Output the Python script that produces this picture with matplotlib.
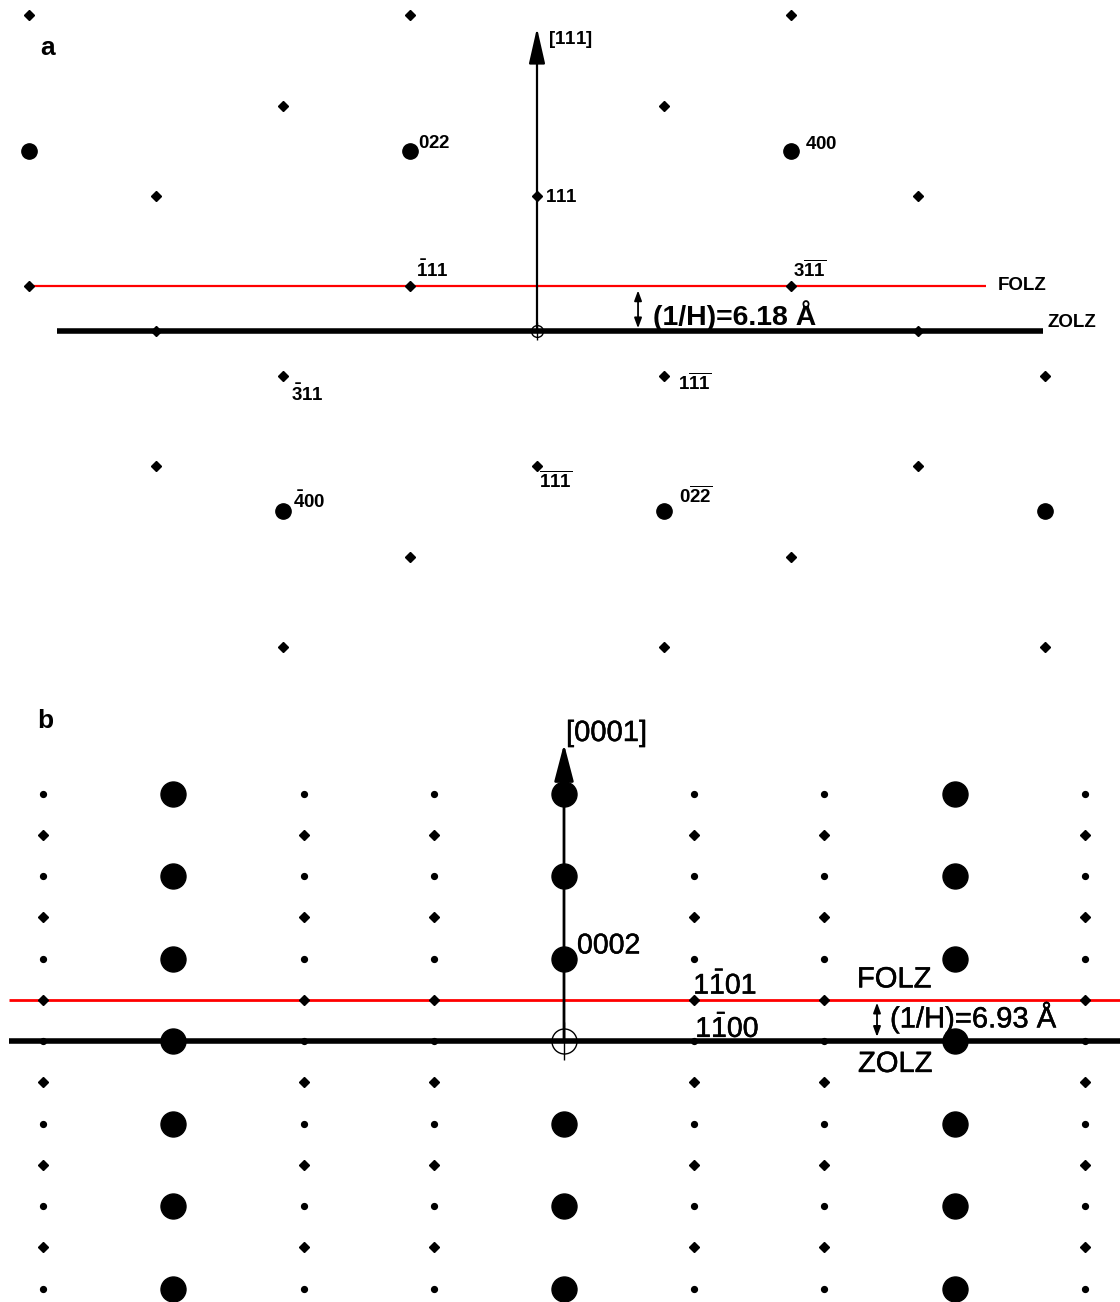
import matplotlib
matplotlib.use("Agg")
import matplotlib.pyplot as plt
import matplotlib.patheffects as pe
from matplotlib.patches import FancyArrowPatch

plt.rcParams['font.family'] = ['Liberation Sans', 'DejaVu Sans']
plt.rcParams['mathtext.fontset'] = 'custom'
plt.rcParams['mathtext.rm'] = 'Liberation Sans'
plt.rcParams['mathtext.bf'] = 'Liberation Sans:bold'
plt.rcParams['mathtext.it'] = 'Liberation Sans:italic'
plt.rcParams['mathtext.sf'] = 'Liberation Sans'

# ---------------- Panel a : cubic crystal, [111] vertical ----------------
# spot positions in (lattice column, layer) units; origin = 000
a_spot_x = [-4, -1, 2, -2, 1, -3, 0, 3, -4, -1, 2, -3, 3,
            -2, 1, 4, -3, 0, 3, -1, 2, -2, 1, 4]
a_spot_y = [7, 7, 7, 5, 5, 3, 3, 3, 1, 1, 1, 0, 0,
            -1, -1, -1, -3, -3, -3, -5, -5, -7, -7, -7]
a_strong_x = [-4, -1, 2, -2, 1, 4]
a_strong_y = [4, 4, 4, -4, -4, -4]

a_index_text = [r'$\mathbf{022}$', r'$\mathbf{400}$', r'$\mathbf{111}$',
                r'$\mathbf{\bar{1}11}$', r'$\mathbf{3\overline{11}}$',
                r'$\mathbf{\bar{3}11}$', r'$\mathbf{1\overline{11}}$',
                r'$\mathbf{\overline{111}}$', r'$\mathbf{\bar{4}00}$',
                r'$\mathbf{0\overline{22}}$']
a_index_x = [-1, 2, 0, -1, 2, -2, 1, 0, -2, 1]
a_index_y = [4, 4, 3, 1, 1, -1, -1, -3, -4, -4]
a_folz_layer = 1
a_zolz_layer = 0
a_axis_tip = 6.72
a_spacing = '(1/H)=6.18 Å'

# ---------------- Panel b : hexagonal crystal, [0001] vertical ----------------
b_strong_cols = [-3, 0, 3]
b_strong_rows = [-6, -4, -2, 0, 2, 4, 6]
b_weak_cols = [-4, -2, -1, 1, 2, 4]
b_odd_rows = [-5, -3, -1, 1, 3, 5]
b_even_rows = [-6, -4, -2, 0, 2, 4, 6]
b_index_text = [r'$0002$', r'$1\bar{1}01$', r'$1\bar{1}00$']
b_index_x = [0, 1, 1]
b_index_y = [2, 1, 0]
b_folz_layer = 1
b_zolz_layer = 0
b_axis_tip = 7.2
b_spacing = '(1/H)=6.93 Å'

W, H = 1120, 1302
fig = plt.figure(figsize=(W / 100, H / 100), dpi=100)

# axes placement (pixel rows of the figure)
a_top, a_bot = 0, 690
b_top, b_bot = 690, 1302
axa = fig.add_axes([0, 1 - a_bot / H, 1, (a_bot - a_top) / H])
axb = fig.add_axes([0, 0, 1, (b_bot - b_top) / H])

# lattice-unit to pixel scales
a_x0, a_dx, a_y0, a_dy = 537.0, 127.1, 331.0, 45.1
b_x0, b_dx, b_y0, b_dy = 564.0, 130.2, 1041.0 - b_top, 41.25
axa.set_xlim(-a_x0 / a_dx, (W - a_x0) / a_dx)
axa.set_ylim((a_y0 - (a_bot - a_top)) / a_dy, a_y0 / a_dy)
axb.set_xlim(-b_x0 / b_dx, (W - b_x0) / b_dx)
axb.set_ylim((b_y0 - (b_bot - b_top)) / b_dy, b_y0 / b_dy)
for ax in (axa, axb):
    ax.set_axis_off()

# ---- panel a drawing ----
axa.plot([-4.0, 3.53], [a_folz_layer] * 2, color='#ff0000', lw=1.6, zorder=1,
         solid_capstyle='butt')
axa.plot([-3.78, 3.98], [a_zolz_layer] * 2, color='black', lw=4.0, zorder=1,
         solid_capstyle='butt')
axa.plot(a_spot_x, a_spot_y, 'D', color='black', ms=5.4, ls='none', zorder=3)
axa.plot(a_strong_x, a_strong_y, 'o', color='black', ms=11, ls='none', zorder=3)
axa.plot([0], [0], 'o', mfc='none', mec='black', ms=8.5, mew=1.0, zorder=4)
axa.plot([0], [0], '+', color='black', ms=13, mew=1.0, zorder=4)
axa.add_patch(FancyArrowPatch((0, 0), (0, a_axis_tip),
                              arrowstyle='-|>,head_length=22,head_width=5',
                              mutation_scale=1, lw=1.6, color='black',
                              shrinkA=0, shrinkB=0, zorder=5))
axa.annotate(r'$\mathbf{[111]}$', (0, a_axis_tip), xytext=(11, -16),
             textcoords='offset pixels', fontsize=13.5, ha='left', va='baseline')

a_offsets = [(8, 3), (14, 2), (8, -6), (6, 9), (2, 9), (8, -25), (14, -14),
             (2, -21), (10, 3), (15, 8)]
for t, x, y, off in zip(a_index_text, a_index_x, a_index_y, a_offsets):
    axa.annotate(t, (x, y), xytext=off, textcoords='offset pixels',
                 fontsize=13.5, ha='left', va='baseline', zorder=6)

axa.text(3.627, a_folz_layer, 'FOLZ', fontsize=13.5, fontweight='bold',
         ha='left', va='center')
axa.text(4.02, 0.19, 'ZOLZ', fontsize=13.5, fontweight='bold',
         ha='left', va='center')
axa.add_patch(FancyArrowPatch((0.795, 0.06), (0.795, 0.9),
                              arrowstyle='<|-|>,head_length=6,head_width=2.2',
                              mutation_scale=1, lw=1.3, color='black',
                              shrinkA=0, shrinkB=0))
axa.text(0.913, 0.13, a_spacing, fontsize=20.5, fontweight='bold',
         ha='left', va='baseline')
fig.text(40 / W, 1 - 55 / H, 'a', fontsize=19, fontweight='bold',
         ha='left', va='baseline')

# ---- panel b drawing ----
heavy = [pe.withStroke(linewidth=0.35, foreground='black')]
axb.plot([-4.26, 4.3], [b_folz_layer] * 2, color='#ff0000', lw=2.0, zorder=1,
         solid_capstyle='butt')
axb.plot([-4.26, 4.3], [b_zolz_layer] * 2, color='black', lw=4.0, zorder=1,
         solid_capstyle='butt')
sx, sy = [], []
for c in b_strong_cols:
    for r in b_strong_rows:
        if not (c == 0 and r == 0):
            sx.append(c)
            sy.append(r)
axb.plot(sx, sy, 'o', color='black', ms=18, ls='none', zorder=3)
ox = [c for c in b_weak_cols for r in b_odd_rows]
oy = [r for c in b_weak_cols for r in b_odd_rows]
axb.plot(ox, oy, 'D', color='black', ms=5.2, ls='none', zorder=3)
ex = [c for c in b_weak_cols for r in b_even_rows]
ey = [r for c in b_weak_cols for r in b_even_rows]
axb.plot(ex, ey, 'o', color='black', ms=4.2, ls='none', zorder=3)
axb.plot([0], [0], 'o', mfc='none', mec='black', ms=18, mew=1.0, zorder=4)
axb.plot([0], [0], '+', color='black', ms=28, mew=1.0, zorder=4)
axb.add_patch(FancyArrowPatch((0, 0), (0, b_axis_tip),
                              arrowstyle='-|>,head_length=23,head_width=6',
                              mutation_scale=1, lw=2.0, color='black',
                              shrinkA=0, shrinkB=0, zorder=5))
axb.annotate('[0001]', (0, b_axis_tip), xytext=(2, 3),
             textcoords='offset pixels', fontsize=21, ha='left', va='baseline',
             path_effects=heavy)

b_offsets = [(13, 5), (-1, 6), (1, 4)]
for t, x, y, off in zip(b_index_text, b_index_x, b_index_y, b_offsets):
    axb.annotate(t, (x, y), xytext=off, textcoords='offset pixels',
                 fontsize=20.5, ha='left', va='baseline', zorder=6,
                 path_effects=heavy)

axb.text(2.25, 1.30, 'FOLZ', fontsize=21, ha='left', va='baseline',
         path_effects=heavy)
axb.text(2.258, -0.75, 'ZOLZ', fontsize=21, ha='left', va='baseline',
         path_effects=heavy)
axb.add_patch(FancyArrowPatch((2.404, 0.1), (2.404, 0.93),
                              arrowstyle='<|-|>,head_length=6,head_width=2.2',
                              mutation_scale=1, lw=1.3, color='black',
                              shrinkA=0, shrinkB=0))
axb.text(2.504, 0.33, b_spacing, fontsize=21, ha='left', va='baseline',
         path_effects=heavy)
fig.text(37 / W, 1 - 728 / H, 'b', fontsize=19, fontweight='bold',
         ha='left', va='baseline')

fig.savefig('out.png', dpi=100, facecolor='white')
